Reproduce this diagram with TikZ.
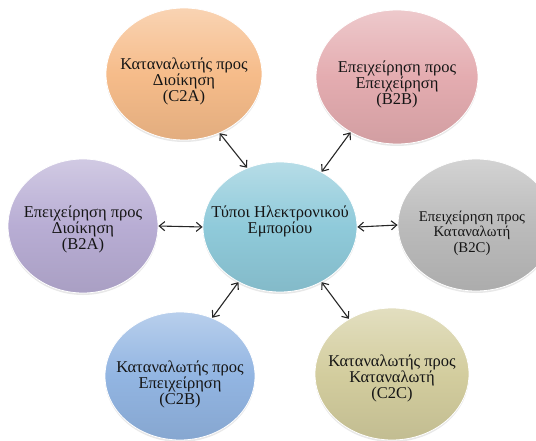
\documentclass[tikz,border=0pt]{standalone}
\usepackage{fontspec}
\setmainfont{Liberation Serif}
\usetikzlibrary{shapes.geometric,arrows.meta,shadows}

\definecolor{cOrange}{HTML}{F6BC8A}
\definecolor{cPink}{HTML}{E4ACB0}
\definecolor{cCyan}{HTML}{8FCADA}
\definecolor{cLilac}{HTML}{B8ADD4}
\definecolor{cGrey}{HTML}{BBBBBB}
\definecolor{cBlue}{HTML}{92B5E2}
\definecolor{cKhaki}{HTML}{D3CD9E}
\definecolor{txt}{HTML}{151515}

\tikzset{
  bubble/.style={ellipse, inner sep=0pt, draw=white, line width=0.8pt,
    minimum width=#1, drop shadow={opacity=0.18, shadow xshift=0pt, shadow yshift=-2pt}},
  tint/.style={top color=#1!65!white, bottom color=#1!92!black, middle color=#1},
  label/.style={align=center, text=txt, font=\fontsize{16.5}{16}\selectfont, inner sep=0pt},
  small label/.style={label, font=\fontsize{14.8}{15.5}\selectfont},
  link/.style={{Straight Barb[length=5.5pt,width=9pt]}-{Straight Barb[length=5.5pt,width=9pt]},
    line width=1.1pt, black!85}
}

\begin{document}
\begin{tikzpicture}[x=1pt, y=-1pt]
  \useasboundingbox (0,0) rectangle (536,441);
  \clip (0,0) rectangle (536,441);

  % the six outer categories and the hub
  \node[bubble=156pt, minimum height=132pt, tint=cOrange] (c2a) at (184,74) {};
  \node[bubble=162pt, minimum height=134pt, tint=cPink]   (b2b) at (397,77) {};
  \node[bubble=150pt, minimum height=134pt, tint=cLilac]  (b2a) at (83,226) {};
  \node[bubble=154pt, minimum height=130pt, tint=cCyan]   (hub) at (280,227) {};
  \node[bubble=156pt, minimum height=132pt, tint=cGrey]   (b2c) at (476,225) {};
  \node[bubble=150pt, minimum height=128pt, tint=cBlue]   (c2b) at (180,376) {};
  \node[bubble=154pt, minimum height=132pt, tint=cKhaki]  (c2c) at (392,374) {};

  % captions
  \node[label] (c2a-t) at (184,81) {Καταναλωτής προς\\Διοίκηση\\(C2A)};
  \node[label] (b2b-t) at (397,84) {Επειχείρηση προς\\Επειχείρηση\\(B2B)};
  \node[label] (b2a-t) at (83,229) {Επειχείρηση προς\\Διοίκηση\\(B2A)};
  \node[label] (hub-t) at (280,221) {Τύποι Ηλεκτρονικού\\Εμπορίου};
  \node[small label] (b2c-t) at (472,233) {Επειχείρηση προς\\Καταναλωτή\\(B2C)};
  \node[label] (c2b-t) at (180,384) {Καταναλωτής προς\\Επειχείρηση\\(C2B)};
  \node[label] (c2c-t) at (392,378) {Καταναλωτής προς\\Καταναλωτή\\(C2C)};

  % two-way connectors to the hub
  \draw[link] (c2a.-59.5) -- (hub.119);
  \draw[link] (b2b.230.6) -- (hub.53.3);
  \draw[link] (b2a.0) -- (hub.180);
  \draw[link] (b2c.180) -- (hub.0);
  \draw[link] (c2b.61.5) -- (hub.-127);
  \draw[link] (c2c.128.3) -- (hub.-53);
\end{tikzpicture}
\end{document}
